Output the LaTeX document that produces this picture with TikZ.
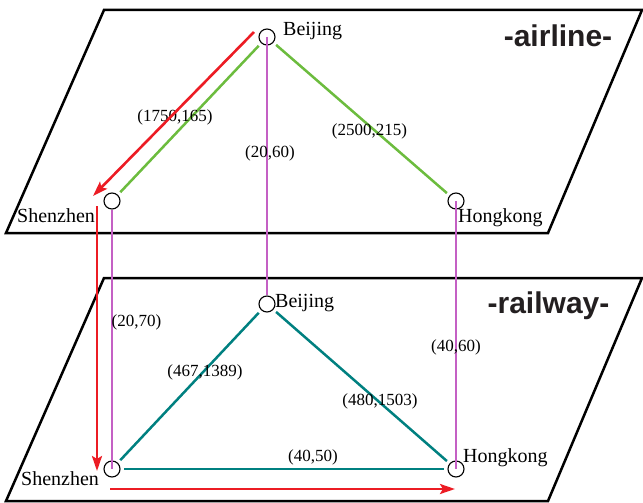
\documentclass[tikz,border=0pt]{standalone}
\usepackage{fontspec}
\setmainfont{Liberation Serif}
\newfontfamily\titlefont{Liberation Sans}
\usetikzlibrary{arrows.meta}
\definecolor{airgreen}{RGB}{108,188,62}
\definecolor{railteal}{RGB}{0,128,128}
\definecolor{linkpurple}{RGB}{196,96,196}
\definecolor{pathred}{RGB}{236,28,36}
\definecolor{titlegray}{RGB}{35,31,32}
\begin{document}
\begin{tikzpicture}[x=1pt,y=-1pt,
  plane/.style={draw=black,line width=2.5pt,line join=miter},
  city/.style={circle,draw=black,line width=1.1pt,minimum size=16pt,inner sep=0pt},
  cityname/.style={font=\fontsize{20}{24}\selectfont,inner sep=0pt},
  cost/.style={font=\fontsize{17}{20}\selectfont,inner sep=0pt},
  title/.style={font=\titlefont\bfseries\fontsize{30}{36}\selectfont,text=titlegray,inner sep=0pt},
  airlink/.style={draw=airgreen,line width=2.5pt,shorten <=3.5pt,shorten >=3.5pt},
  raillink/.style={draw=railteal,line width=2.5pt,shorten <=3.5pt,shorten >=3.5pt},
  transfer/.style={draw=linkpurple,line width=1.2pt},
  route/.style={draw=pathred,line width=2.6pt,-{Stealth[length=15pt,width=10pt,inset=3pt]}}
]
\useasboundingbox (0,0) rectangle (643,503);
% planes
\draw[plane] (104,10) -- (642,10) -- (548,233) -- (6,233) -- cycle;
\draw[plane] (104,278) -- (642,278) -- (548,501) -- (6,501) -- cycle;
% titles
\node[title,anchor=base] (tair) at (558,47) {-airline-};
\node[title,anchor=base] (trail) at (548.5,313) {-railway-};
% city circles
\node[city] (aB) at (267,37) {};
\node[city] (aS) at (112,201) {};
\node[city] (aH) at (456,201) {};
\node[city] (rB) at (267,304) {};
\node[city] (rS) at (112,469) {};
\node[city] (rH) at (456,469) {};
% transfer lines
\draw[transfer] (aB.center) -- (rB.north);
\draw[transfer] (aS.south) -- (rS.center);
\draw[transfer] (aH.center) -- (rH.center);
% airline links
\draw[airlink] (aB) -- (aS);
\draw[airlink] (aB) -- (aH);
% railway links
\draw[raillink] (rB) -- (rS);
\draw[raillink] (rB) -- (rH);
\draw[raillink] (rS) -- (rH);
% city names
\node[cityname,anchor=base west] (naB) at (283,35.5) {Beijing};
\node[cityname,anchor=base west] (naS) at (17,222) {Shenzhen};
\node[cityname,anchor=base west] (naH) at (458,222) {Hongkong};
\node[cityname,anchor=base west] (nrB) at (275,307) {Beijing};
\node[cityname,anchor=base west] (nrS) at (21,485) {Shenzhen};
\node[cityname,anchor=base west] (nrH) at (463,462) {Hongkong};
% costs
\node[cost] (c1) at (175,117) {(1750,165)};
\node[cost] (c2) at (270,153) {(20,60)};
\node[cost] (c3) at (369.5,131) {(2500,215)};
\node[cost] (c4) at (136.5,322) {(20,70)};
\node[cost] (c5) at (205,372) {(467,1389)};
\node[cost] (c6) at (313,457) {(40,50)};
\node[cost] (c7) at (456,347) {(40,60)};
\node[cost] (c8) at (380,401) {(480,1503)};
% red route
\coordinate (p0) at (254,32);
\coordinate (p1) at (93,196);
\coordinate (p2) at (97,206);
\coordinate (p3) at (97,471);
\coordinate (p4) at (110,489);
\coordinate (p5) at (455,489);
\draw[route] (p0) -- (p1);
\draw[route] (p2) -- (p3);
\draw[route] (p4) -- (p5);
\end{tikzpicture}
\end{document}
